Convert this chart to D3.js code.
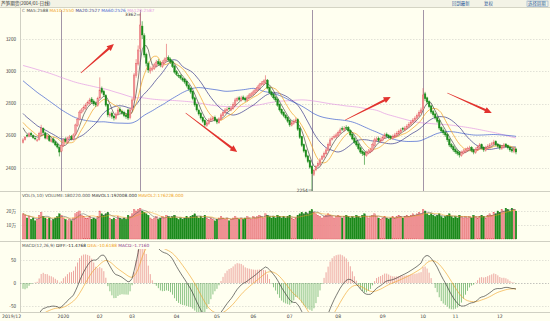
<!DOCTYPE html>
<html><head><meta charset="utf-8">
<script src="https://cdn.jsdelivr.net/npm/d3@7/dist/d3.min.js"></script>
<style>
body{margin:0;background:#fffff0;}
svg{display:block;font-family:"DejaVu Sans","Noto Sans CJK SC",sans-serif;}
</style></head><body>
<svg id="chart" width="550" height="321"></svg>
<script>
// closes of the 120 bars before the visible range (only feed the MA / MACD lines)
var preCloses = [3000,3015,3008,3025,3020,3035,3030,3045,3040,3055,3050,3062,3058,3070,3066,3078,3072,3085,3080,3092,
3088,3100,3095,3108,3102,3115,3110,3122,3118,3130,3126,3138,3132,3145,3140,3152,3148,3160,3155,3168,
3162,3175,3170,3182,3178,3190,3185,3198,3192,3205,3200,3212,3208,3220,3215,3228,3222,3235,3240,3250,
3245,3230,3238,3215,3200,3208,3185,3170,3178,3155,3140,3148,3125,3110,3118,3095,3080,3088,3065,3050,
3058,3035,3020,3028,3005,2990,2998,2975,2960,2968,2945,2930,2938,2915,2900,2908,2885,2870,2878,2855,
2840,2848,2825,2810,2818,2795,2780,2788,2765,2750,2758,2735,2720,2728,2705,2690,2698,2675,2660,2640];
var opens = [2560,2576,2602,2595,2615,2600,2585,2570,2578,2610,2645,2618,2584,2598,2566,2580,2562,2548,2528,2505,
2538,2578,2560,2588,2596,2578,2610,2665,2702,2745,2762,2770,2795,2800,2828,2815,2800,2788,2835,2892,
2875,2850,2795,2725,2740,2722,2708,2732,2765,2752,2745,2728,2760,2712,2762,2825,2975,3045,3140,3280,
3220,3105,3048,3002,3012,3018,3035,3060,3052,3030,3050,3068,3085,3075,3060,3032,2998,2975,2972,2955,
2948,2935,2912,2895,2874,2835,2795,2758,2740,2712,2695,2662,2675,2695,2700,2715,2698,2680,2702,2725,
2742,2755,2770,2760,2770,2790,2818,2835,2820,2840,2832,2818,2836,2850,2858,2870,2880,2895,2918,2920,
2930,2945,2898,2872,2858,2838,2825,2795,2762,2745,2728,2712,2695,2665,2676,2688,2700,2645,2595,2545,
2510,2475,2445,2410,2360,2388,2412,2420,2455,2468,2488,2510,2540,2578,2590,2592,2600,2618,2645,2635,
2650,2652,2632,2610,2585,2565,2548,2525,2502,2495,2478,2492,2500,2510,2540,2572,2585,2565,2572,2588,
2610,2600,2595,2582,2592,2600,2612,2622,2645,2636,2645,2658,2670,2682,2695,2708,2722,2742,2765,2860,
2835,2812,2785,2750,2735,2712,2695,2650,2635,2620,2608,2578,2545,2532,2515,2502,2495,2478,2492,2500,
2510,2518,2528,2512,2495,2512,2528,2545,2528,2510,2522,2532,2545,2548,2565,2548,2538,2520,2528,2548,
2538,2528,2515,2502,2518];
var highs = [2585,2598,2610,2622,2625,2608,2595,2582,2625,2668,2652,2625,2602,2605,2585,2590,2570,2555,2535,2548,
2582,2590,2595,2605,2605,2615,2675,2712,2758,2772,2788,2802,2818,2835,2840,2825,2812,2842,2962,2905,
2885,2858,2800,2748,2750,2730,2745,2772,2778,2762,2755,2738,2768,2772,2835,2990,3075,3160,3362,3310,
3235,3115,3060,3030,3035,3052,3070,3075,3062,3068,3085,3170,3098,3085,3068,3040,3008,2988,2980,2965,
2958,2942,2920,2902,2880,2842,2802,2768,2748,2720,2702,2692,2710,2718,2722,2725,2708,2715,2740,2755,
2772,2778,2782,2785,2808,2835,2842,2845,2848,2850,2842,2852,2865,2872,2885,2895,2912,2928,2938,2948,
2975,2952,2905,2880,2865,2848,2832,2800,2770,2752,2735,2720,2702,2692,2702,2712,2708,2652,2600,2552,
2518,2482,2452,2418,2395,2418,2442,2462,2482,2502,2525,2558,2588,2598,2608,2618,2632,2650,2658,2660,
2665,2660,2640,2618,2592,2572,2555,2532,2510,2502,2508,2518,2525,2558,2588,2595,2595,2588,2602,2618,
2620,2610,2605,2608,2618,2628,2638,2648,2655,2660,2672,2685,2698,2710,2722,2738,2758,2775,2895,2872,
2842,2820,2792,2760,2742,2720,2702,2658,2645,2630,2615,2585,2555,2540,2525,2512,2505,2508,2518,2525,
2532,2538,2535,2520,2528,2542,2555,2552,2535,2538,2548,2555,2562,2575,2572,2555,2545,2542,2555,2555,
2545,2535,2522,2528,2525];
var lows = [2552,2570,2590,2590,2598,2580,2572,2562,2570,2605,2612,2578,2575,2562,2558,2552,2535,2520,2472,2498,
2530,2558,2552,2580,2572,2570,2602,2655,2695,2738,2750,2762,2785,2792,2800,2785,2778,2780,2828,2860,
2840,2780,2715,2712,2705,2695,2700,2725,2740,2730,2715,2705,2698,2702,2755,2815,2960,3035,3120,3200,
3085,3030,2990,2985,3000,3008,3025,3035,3025,3020,3042,3060,3060,3045,3020,2985,2970,2958,2948,2935,
2922,2900,2880,2860,2820,2780,2750,2725,2700,2680,2655,2655,2668,2688,2692,2688,2672,2675,2695,2718,
2735,2748,2758,2752,2762,2782,2810,2815,2812,2820,2810,2812,2828,2842,2850,2862,2872,2888,2908,2912,
2922,2888,2860,2842,2825,2810,2780,2750,2730,2715,2700,2680,2655,2658,2668,2680,2630,2580,2530,2495,
2460,2430,2395,2254,2350,2380,2405,2412,2448,2460,2480,2505,2535,2570,2582,2585,2592,2610,2630,2625,
2635,2622,2595,2572,2550,2532,2510,2488,2475,2420,2470,2485,2492,2502,2532,2565,2560,2555,2565,2580,
2590,2580,2575,2575,2585,2592,2605,2615,2630,2628,2638,2650,2662,2675,2688,2700,2715,2735,2755,2815,
2795,2770,2735,2718,2700,2678,2635,2618,2605,2592,2562,2530,2518,2500,2488,2478,2465,2470,2485,2492,
2502,2510,2498,2485,2488,2505,2520,2515,2500,2502,2515,2522,2535,2540,2535,2525,2512,2512,2520,2525,
2515,2500,2495,2492,2485];
var closes = [2574,2590,2598,2612,2605,2588,2580,2574,2615,2648,2620,2586,2595,2570,2574,2560,2543,2530,2499,2540,
2574,2565,2586,2592,2580,2605,2667,2700,2747,2760,2775,2791,2805,2822,2810,2798,2791,2830,2884,2870,
2853,2790,2729,2735,2720,2710,2735,2760,2750,2741,2725,2718,2710,2760,2822,2977,3050,3132,3287,3225,
3101,3050,3008,3015,3020,3040,3057,3045,3039,3055,3070,3082,3070,3057,3030,2995,2980,2970,2958,2945,
2933,2910,2890,2871,2830,2791,2760,2735,2710,2690,2667,2680,2698,2705,2710,2695,2685,2705,2729,2745,
2760,2765,2768,2772,2795,2822,2830,2825,2834,2828,2822,2840,2853,2860,2872,2884,2900,2915,2925,2935,
2946,2896,2870,2853,2835,2822,2790,2760,2740,2725,2710,2690,2667,2680,2690,2698,2640,2590,2540,2505,
2470,2440,2405,2365,2385,2410,2430,2450,2470,2490,2512,2545,2574,2585,2595,2605,2620,2636,2640,2645,
2648,2630,2605,2580,2560,2543,2520,2499,2490,2481,2495,2505,2512,2545,2574,2580,2570,2574,2590,2605,
2598,2590,2586,2595,2605,2615,2625,2636,2640,2648,2660,2672,2685,2698,2710,2725,2745,2760,2853,2830,
2809,2780,2747,2730,2710,2690,2648,2630,2618,2605,2575,2543,2530,2512,2500,2490,2481,2495,2505,2512,
2520,2524,2510,2499,2515,2530,2543,2525,2512,2525,2535,2543,2550,2561,2545,2535,2524,2530,2543,2535,
2525,2512,2505,2515,2499];
// volume in 万
var volumes = [18,17,15,16,14,15,13,14,17,19,16,15,14,15,13,14,15,16,18,17,
15,14,13,14,13,15,18,19,20,17,16,15,15,16,14,15,14,16,20,18,
17,18,19,15,14,15,14,16,15,14,15,14,17,16,18,21,20,21,22,20,
19,18,17,15,14,15,16,14,15,16,15,17,16,15,16,17,15,14,15,14,
15,16,15,16,17,18,16,15,16,15,17,15,14,15,14,13,14,15,16,15,
14,15,13,14,15,16,15,14,15,14,15,16,15,14,16,15,16,17,16,15,
18,17,16,15,16,15,17,16,15,16,15,16,17,15,14,15,17,18,19,18,
19,18,20,21,19,18,17,16,15,16,17,18,17,16,15,16,17,16,15,16,
17,16,15,16,15,17,16,15,17,18,16,15,16,17,18,16,15,14,15,16,
15,14,15,16,15,16,17,16,15,16,17,16,17,18,17,18,19,18,21,20,
18,17,18,17,16,17,18,16,15,16,17,18,16,15,16,15,17,16,15,16,
15,16,15,17,16,15,16,17,16,15,17,18,17,19,18,20,19,21,20,22,
21,20,22,21,20];

var monthLabels = ["2020","02","03","04","05","06","07","08","09","10","11","12"];
var monthIndex = [20,38,54,76,96,114,132,156,178,198,214,236];
var priceTicks = [3200,3000,2800,2600,2400];
var volTicks = [10,20];
var macdTicks = [50,0,-50];
var markBars = [19,58,143,198];
var maPeriods = [5,10,20,60,120];
var maColors = ["#4a4a4a","#f0a020","#3a3a8c","#3f5fd0","#e49ae4"];
// arrows: [bar, price] -> [bar, price]
var arrows = [[28.6,2989,45,3169],[80.5,2741,106,2499],[159.5,2698,182,2840],[210,2865,232,2741]];

var svg = d3.select("#chart");
var N = closes.length, P = preCloses.length;
var allCloses = preCloses.concat(closes);
var left = 20, right = 549;
var pTop = 8, pBot = 191, vTop = 192, vBot = 241, mTop = 242, mBot = 312;
var upColor = "#e35d62", upFill = "#f3a0a3", downColor = "#1b8a1b";

var x = d3.scaleLinear().domain([0, N - 1]).range([23, 516]);
var y = d3.scaleLinear().domain([2400, 3200]).range([168, 39]);
var yv = d3.scaleLinear().domain([0, 20]).range([239, 211]);
var ym = d3.scaleLinear().domain([-50, 50]).range([306, 260]);

svg.append("rect").attr("width", 550).attr("height", 321).attr("fill", "#fffff0");
var defs = svg.append("defs");
[["clipP", pTop, pBot], ["clipV", vTop + 7, vBot], ["clipM", mTop + 7, mBot]].forEach(function(c) {
  defs.append("clipPath").attr("id", c[0]).append("rect")
    .attr("x", left + 1).attr("y", c[1]).attr("width", right - left).attr("height", c[2] - c[1]);
});

// title bar
svg.append("rect").attr("width", 550).attr("height", 7).attr("fill", "#f3f3e6");
svg.append("line").attr("x1", 0).attr("x2", 550).attr("y1", 7.5).attr("y2", 7.5).attr("stroke", "#d4d4c4");
svg.append("text").attr("x", 1).attr("y", 5).attr("font-size", 4.6).attr("fill", "#333")
  .attr("font-family", "Noto Sans CJK SC").text("芦笋期货(2004/01-日线)");
[["回到最新", 452], ["复权", 484], ["选择周期", 528]].forEach(function(b, k) {
  svg.append("text").attr("x", b[1]).attr("y", 5).attr("font-size", 4.4)
    .attr("fill", "#2a5c9a").attr("font-family", "Noto Sans CJK SC").text(b[0]);
  if (k == 2) svg.append("rect").attr("x", b[1] - 1).attr("y", 1).attr("width", 21).attr("height", 5.5)
    .attr("fill", "none").attr("stroke", "#7a9cc8").attr("stroke-width", 0.5);
});

// panel frames
[pBot, vBot, mBot].forEach(function(v) {
  svg.append("line").attr("x1", 0).attr("x2", 550).attr("y1", v + 0.5).attr("y2", v + 0.5)
    .attr("stroke", "#c4c4b8").attr("stroke-width", 0.8);
});
svg.append("line").attr("x1", left + 0.5).attr("x2", left + 0.5).attr("y1", pTop).attr("y2", mBot)
  .attr("stroke", "#c4c4b8").attr("stroke-width", 0.8);

function grid(scale, ticks, fmt, dash) {
  var g = svg.append("g");
  g.selectAll("line").data(ticks).enter().append("line")
    .attr("x1", left).attr("x2", right)
    .attr("y1", function(d) { return Math.round(scale(d)) + 0.5; })
    .attr("y2", function(d) { return Math.round(scale(d)) + 0.5; })
    .attr("stroke", function(d) { return dash && d === 0 ? "#9a9a9a" : "#cfcfc6"; })
    .attr("stroke-width", 0.6)
    .attr("stroke-dasharray", "1.5,1.5");
  g.selectAll("text").data(ticks).enter().append("text")
    .attr("x", 16).attr("y", function(d) { return scale(d) + 1.6; })
    .attr("text-anchor", "end").attr("font-size", 4.6).attr("fill", "#444")
    .attr("font-family", "Noto Sans CJK SC")
    .text(fmt);
}
grid(y, priceTicks, function(d) { return d; });
grid(yv, volTicks, function(d) { return d + "万"; });
grid(ym, macdTicks, function(d) { return d; }, true);

// event lines
svg.append("g").selectAll("line").data(markBars).enter().append("line")
  .attr("x1", function(d) { return Math.round(x(d)) + 0.5; })
  .attr("x2", function(d) { return Math.round(x(d)) + 0.5; })
  .attr("y1", pTop + 2).attr("y2", pBot)
  .attr("stroke", "#8c7a94").attr("stroke-width", 0.8);

// moving averages over history + visible bars
function movingAvg(n) {
  return closes.map(function(c, i) {
    var end = P + i;
    return d3.mean(allCloses.slice(Math.max(0, end - n + 1), end + 1));
  });
}
var priceG = svg.append("g").attr("clip-path", "url(#clipP)");
var maLine = d3.line().x(function(d, i) { return x(i); }).y(function(d) { return y(d); });
maPeriods.slice().reverse().forEach(function(p) {
  var k = maPeriods.indexOf(p);
  priceG.append("path").attr("d", maLine(movingAvg(p)))
    .attr("fill", "none").attr("stroke", maColors[k]).attr("stroke-width", 0.7);
});

// candles
var bw = 1.6;
var candle = priceG.append("g").selectAll("g").data(closes).enter().append("g");
candle.append("line")
  .attr("x1", function(d, i) { return x(i); }).attr("x2", function(d, i) { return x(i); })
  .attr("y1", function(d, i) { return y(highs[i]); }).attr("y2", function(d, i) { return y(lows[i]); })
  .attr("stroke", function(d, i) { return d >= opens[i] ? upColor : downColor; })
  .attr("stroke-width", 0.6);
candle.append("rect")
  .attr("x", function(d, i) { return x(i) - bw / 2; })
  .attr("width", bw)
  .attr("y", function(d, i) { return y(Math.max(d, opens[i])); })
  .attr("height", function(d, i) { return Math.max(0.6, Math.abs(y(d) - y(opens[i]))); })
  .attr("fill", function(d, i) { return d >= opens[i] ? upFill : downColor; })
  .attr("stroke", function(d, i) { return d >= opens[i] ? upColor : downColor; })
  .attr("stroke-width", 0.4);

// high / low marks
var hi = d3.maxIndex(highs), lo = d3.minIndex(lows);
svg.append("text").attr("x", x(hi) - 4).attr("y", y(highs[hi]) + 3.6).attr("text-anchor", "end")
  .attr("font-size", 4.4).attr("fill", "#333").text(highs[hi]);
svg.append("line").attr("x1", x(hi) - 3.5).attr("x2", x(hi)).attr("y1", y(highs[hi]) + 2).attr("y2", y(highs[hi]) + 2)
  .attr("stroke", "#333").attr("stroke-width", 0.5);
svg.append("text").attr("x", x(lo) - 4).attr("y", y(lows[lo])).attr("text-anchor", "end")
  .attr("font-size", 4.4).attr("fill", "#333").text(lows[lo]);
svg.append("line").attr("x1", x(lo) - 3.5).attr("x2", x(lo)).attr("y1", y(lows[lo]) - 1.5).attr("y2", y(lows[lo]) - 1.5)
  .attr("stroke", "#333").attr("stroke-width", 0.5);

// red arrows
function arrowPath(a) {
  var x0 = x(a[0]), y0 = y(a[1]), x1 = x(a[2]), y1 = y(a[3]);
  var dx = x1 - x0, dy = y1 - y0, L = Math.sqrt(dx * dx + dy * dy);
  var ux = dx / L, uy = dy / L, nx = -uy, ny = ux;
  var hl = 7, nw = 1.1, hw = 3.2, tw = 0.3;
  var bx = x1 - ux * hl, by = y1 - uy * hl;
  var pts = [[x0 + nx * tw, y0 + ny * tw], [bx + nx * nw, by + ny * nw], [bx + nx * hw, by + ny * hw], [x1, y1],
    [bx - nx * hw, by - ny * hw], [bx - nx * nw, by - ny * nw], [x0 - nx * tw, y0 - ny * tw]];
  return "M" + pts.map(function(p) { return p[0].toFixed(1) + "," + p[1].toFixed(1); }).join("L") + "Z";
}
svg.append("g").selectAll("path").data(arrows).enter().append("path")
  .attr("d", arrowPath).attr("fill", "#e2332e");

// legends
function legend(yy, parts) {
  var t = svg.append("text").attr("x", 22).attr("y", yy).attr("font-size", 4.3);
  parts.forEach(function(p) {
    t.append("tspan").attr("fill", p[1]).text(p[0] + " ");
  });
}
legend(11.5, [["C", "#777"], ["MA5:2588", maColors[0]], ["MA10:2550", maColors[1]], ["MA20:2527", maColors[2]],
  ["MA60:2526", maColors[3]], ["MA120:2587", maColors[4]]]);
legend(197, [["VOL(5,10)", "#555"], ["VOLUME:180220.000", "#555"], ["MAVOL1:192008.000", "#333"], ["MAVOL2:176228.000", "#f0a020"]]);
legend(247, [["MACD(12,26,9)", "#555"], ["DIFF:-11.4768", "#222"], ["DEA:-10.6188", "#f0a020"], ["MACD:-1.7160", "#8a3c8a"]]);

// volume
var volG = svg.append("g").attr("clip-path", "url(#clipV)");
volG.append("g").selectAll("rect").data(volumes).enter().append("rect")
  .attr("x", function(d, i) { return x(i) - bw / 2; })
  .attr("width", bw)
  .attr("y", function(d) { return yv(d); })
  .attr("height", function(d) { return yv(0) - yv(d); })
  .attr("fill", function(d, i) { return closes[i] >= opens[i] ? upFill : downColor; })
  .attr("stroke", function(d, i) { return closes[i] >= opens[i] ? upColor : downColor; })
  .attr("stroke-width", 0.4);
function volAvg(n) {
  return volumes.map(function(v, i) {
    return d3.mean(volumes.slice(Math.max(0, i - n + 1), i + 1));
  });
}
var vLine = d3.line().x(function(d, i) { return x(i); }).y(function(d) { return yv(d); });
volG.append("path").attr("d", vLine(volAvg(5))).attr("fill", "none").attr("stroke", "#555").attr("stroke-width", 0.5);
volG.append("path").attr("d", vLine(volAvg(10))).attr("fill", "none").attr("stroke", "#f0a020").attr("stroke-width", 0.5);

// macd (warmed up on the history)
var e12 = allCloses[0], e26 = allCloses[0], dea = 0;
var dif = [], deaArr = [], hist = [];
allCloses.forEach(function(c, j) {
  e12 = (2 * c + 11 * e12) / 13;
  e26 = (2 * c + 25 * e26) / 27;
  var d = e12 - e26;
  dea = (2 * d + 8 * dea) / 10;
  if (j >= P) { dif.push(d); deaArr.push(dea); hist.push(2 * (d - dea)); }
});
var macdG = svg.append("g").attr("clip-path", "url(#clipM)");
macdG.append("g").selectAll("line").data(hist).enter().append("line")
  .attr("x1", function(d, i) { return x(i); }).attr("x2", function(d, i) { return x(i); })
  .attr("y1", ym(0)).attr("y2", function(d) { return ym(d); })
  .attr("stroke", function(d) { return d >= 0 ? "#e06a6a" : "#3a9a3a"; })
  .attr("stroke-width", 0.6);
var mLine = d3.line().x(function(d, i) { return x(i); }).y(function(d) { return ym(d); });
macdG.append("path").attr("d", mLine(deaArr)).attr("fill", "none").attr("stroke", "#f0a020").attr("stroke-width", 0.6);
macdG.append("path").attr("d", mLine(dif)).attr("fill", "none").attr("stroke", "#222").attr("stroke-width", 0.6);

// x labels
svg.append("text").attr("x", 2).attr("y", 318).attr("font-size", 4.6).attr("fill", "#444").text("2019/12");
svg.append("g").selectAll("text").data(monthLabels).enter().append("text")
  .attr("x", function(d, i) { return x(monthIndex[i]); }).attr("y", 318)
  .attr("text-anchor", "middle").attr("font-size", 4.6).attr("fill", "#444")
  .text(function(d) { return d; });
</script>
</body></html>
